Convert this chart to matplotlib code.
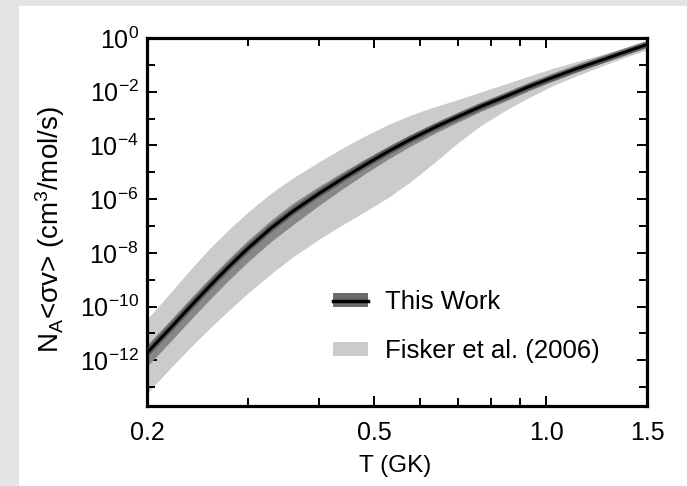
import numpy as np
import matplotlib
matplotlib.use("Agg")
import matplotlib.pyplot as plt
from matplotlib.patches import Patch
from matplotlib.lines import Line2D
from matplotlib.ticker import FixedLocator, NullFormatter

plt.rcParams['font.family'] = ['Liberation Sans', 'DejaVu Sans']
plt.rcParams['mathtext.fontset'] = 'custom'
plt.rcParams['mathtext.rm'] = 'Liberation Sans'
plt.rcParams['mathtext.it'] = 'Liberation Sans:italic'
plt.rcParams['mathtext.default'] = 'regular'

# Temperature grid (GK)
T = [0.2, 0.22, 0.24, 0.26, 0.28, 0.30, 0.33, 0.36, 0.40, 0.44, 0.48, 0.53,
     0.58, 0.64, 0.70, 0.77, 0.85, 0.93, 1.02, 1.12, 1.23, 1.36, 1.5]
# log10 of rate -- this work (central line and band)
this_work_log = [-11.72, -10.79, -9.92, -9.14, -8.45, -7.84, -7.07, -6.45, -5.79, -5.23, -4.74, -4.21,
                 -3.76, -3.31, -2.93, -2.54, -2.17, -1.82, -1.49, -1.17, -0.87, -0.55, -0.24]
this_work_hi_log = [-11.42, -10.49, -9.62, -8.84, -8.15, -7.54, -6.77, -6.15, -5.52, -4.99, -4.52, -4.01,
                    -3.58, -3.15, -2.78, -2.40, -2.04, -1.70, -1.38, -1.07, -0.77, -0.46, -0.16]
this_work_lo_log = [-12.22, -11.29, -10.42, -9.64, -8.95, -8.34, -7.57, -6.95, -6.23, -5.61, -5.07, -4.49,
                    -4.01, -3.53, -3.13, -2.72, -2.34, -1.97, -1.63, -1.30, -0.99, -0.66, -0.34]
# Fisker et al. (2006) band
fisker_hi_log = [-10.47, -9.47, -8.54, -7.74, -7.07, -6.49, -5.77, -5.21, -4.61, -4.09, -3.66, -3.21,
                 -2.86, -2.55, -2.29, -2.00, -1.70, -1.42, -1.15, -0.90, -0.66, -0.39, -0.12]
fisker_lo_log = [-13.23, -12.28, -11.45, -10.72, -10.08, -9.51, -8.77, -8.15, -7.49, -6.95, -6.48, -5.92,
                 -5.33, -4.60, -3.90, -3.24, -2.68, -2.23, -1.80, -1.44, -1.10, -0.75, -0.44]

x_ticks = [0.2, 0.5, 1.0, 1.5]
x_ticklabels = ['0.2', '0.5', '1.0', '1.5']
x_minor = [0.3, 0.4, 0.6, 0.7, 0.8, 0.9]
y_major_exp = [-12, -10, -8, -6, -4, -2, 0]
y_minor_exp = [-13, -11, -9, -7, -5, -3, -1]

W, H = 687, 486
fig = plt.figure(figsize=(W / 100, H / 100), dpi=100)
fig.patch.set_facecolor('#e4e4e4')
bg = fig.add_axes([19 / W, 0, 1 - 19 / W, 1 - 6 / H], zorder=-5)
bg.set_facecolor('white')
bg.set_xticks([])
bg.set_yticks([])
for s in bg.spines.values():
    s.set_visible(False)

left, right, top, bottom = 147, 647, 38, 406
ax = fig.add_axes([left / W, 1 - bottom / H, (right - left) / W, (bottom - top) / H], zorder=1)
ax.set_facecolor('white')

Ta = np.array(T)
p = lambda a: 10.0 ** np.array(a)

ax.fill_between(Ta, p(fisker_lo_log), p(fisker_hi_log), color='#cbcbcb', lw=0, zorder=1)
ax.fill_between(Ta, p(this_work_lo_log), p(this_work_hi_log), color='#878787', lw=0, zorder=2)
ax.plot(Ta, p(this_work_log), color='#404040', lw=5.0, alpha=0.6, zorder=3,
        solid_capstyle='butt')
ax.plot(Ta, p(this_work_log), color='black', lw=2.2, zorder=4)

ax.set_xscale('log')
ax.set_yscale('log')
ax.set_xlim(0.2, 1.5)
ax.set_ylim(2e-14, 1.0)

ax.xaxis.set_major_locator(FixedLocator(x_ticks))
ax.set_xticklabels(x_ticklabels)
ax.xaxis.set_minor_locator(FixedLocator(x_minor))
ax.xaxis.set_minor_formatter(NullFormatter())

ax.yaxis.set_major_locator(FixedLocator([10.0 ** k for k in y_major_exp]))
ax.set_yticklabels([r'$10^{%d}$' % k for k in y_major_exp])
ax.yaxis.set_minor_locator(FixedLocator([10.0 ** k for k in y_minor_exp]))
ax.yaxis.set_minor_formatter(NullFormatter())

ax.tick_params(which='both', direction='in', top=True, right=True, width=1.4, color='black')
ax.tick_params(which='major', length=7, labelsize=18)
ax.tick_params(which='minor', length=6)
ax.tick_params(axis='x', which='major', pad=11)
ax.tick_params(axis='y', which='major', pad=6)
for s in ax.spines.values():
    s.set_linewidth(2.3)

fig.text(50 / W, 1 - 230 / H, r'N$_A$<$\sigma$v> (cm$^3$/mol/s)', rotation=90,
         ha='center', va='center', fontsize=20)
fig.text(395 / W, 1 - 466 / H, 'T (GK)', ha='center', va='center', fontsize=17.5)

h1 = (Patch(facecolor='#6a6a6a', edgecolor='none'), Line2D([], [], color='black', lw=2.5))
h2 = Patch(facecolor='#cbcbcb', edgecolor='none')
ax.legend([h1, h2], ['This Work', 'Fisker et al. (2006)'], loc='upper left',
          bbox_to_anchor=(0.372, 0.315), frameon=False, fontsize=18.5,
          handlelength=1.36, handleheight=0.5, handletextpad=0.66,
          labelspacing=0.97, borderpad=0, borderaxespad=0)

fig.savefig('out.png', dpi=100, facecolor=fig.get_facecolor())
